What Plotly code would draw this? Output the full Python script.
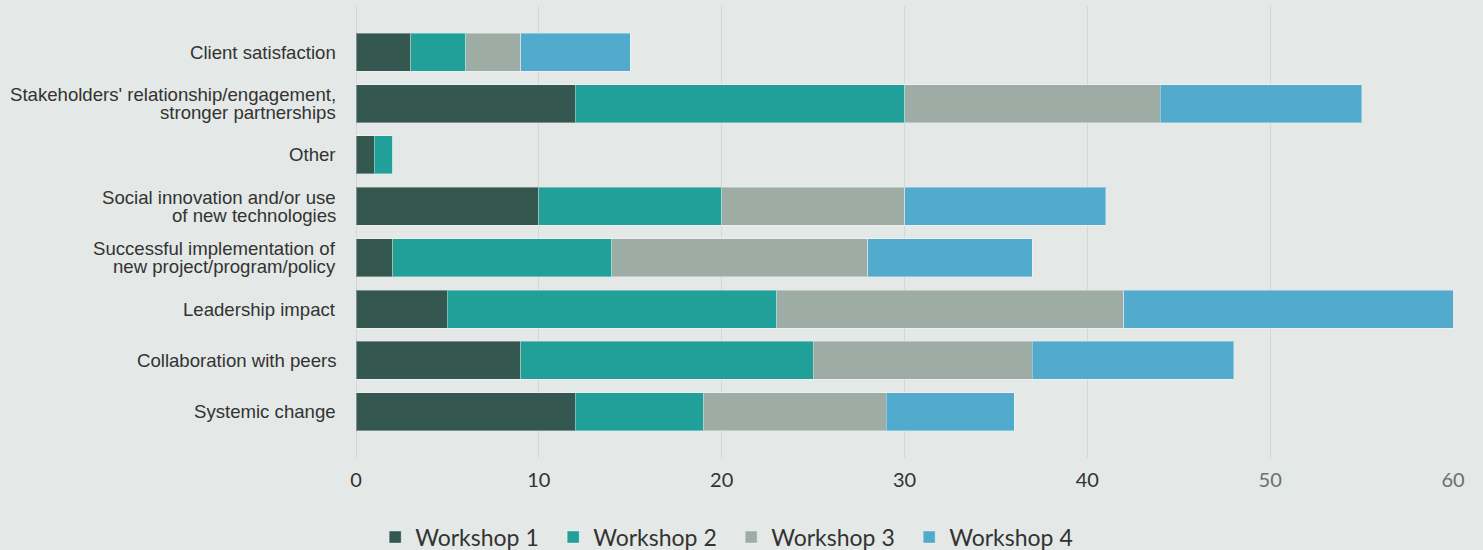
import plotly.graph_objects as go

categories = [
    "Client satisfaction",
    "Stakeholders' relationship/engagement,<br>stronger partnerships",
    "Other",
    "Social innovation and/or use<br>of new technologies",
    "Successful implementation of<br>new project/program/policy",
    "Leadership impact",
    "Collaboration with peers",
    "Systemic change",
]
series_names = ["Workshop 1", "Workshop 2", "Workshop 3", "Workshop 4"]
workshop1 = [3, 12, 1, 10, 2, 5, 9, 12]
workshop2 = [3, 18, 1, 10, 12, 18, 16, 7]
workshop3 = [3, 14, 0, 10, 14, 19, 12, 10]
workshop4 = [6, 11, 0, 11, 9, 18, 11, 7]
colors = ["#345850", "#21a099", "#9dada6", "#52aacd"]
tick_vals = [0, 10, 20, 30, 40, 50, 60]
tick_text = ["0", "10", "20", "30", "40",
             "<span style='color:#6b6f6e'>50</span>",
             "<span style='color:#6b6f6e'>60</span>"]

fig = go.Figure()
for name, vals, col in zip(series_names, [workshop1, workshop2, workshop3, workshop4], colors):
    fig.add_trace(go.Bar(
        y=categories, x=vals, name=name, orientation="h",
        marker=dict(color=col, line=dict(color="rgba(255,255,255,0.35)", width=1)),
    ))

# category labels drawn as text next to the axis, with tight line spacing
annotations = []
for cat in categories:
    lines = cat.split("<br>")
    n = len(lines)
    for i, line in enumerate(lines):
        annotations.append(dict(
            x=0, xref="paper", xanchor="right", xshift=-19,
            y=cat, yref="y", yanchor="middle", yshift=((n - 1) / 2 - i) * 17.5,
            text=line, showarrow=False, borderpad=0,
            font=dict(family="Liberation Sans, Arial", size=18.6, color="#333333"),
        ))

fig.update_layout(
    barmode="stack",
    width=1483, height=550,
    paper_bgcolor="#e4e8e6", plot_bgcolor="#e4e8e6",
    margin=dict(l=356, r=30, t=6, b=92, autoexpand=False),
    bargap=0.26,
    font=dict(family="Liberation Sans, Arial", color="#333333"),
    xaxis=dict(range=[0, 60], tickvals=tick_vals, ticktext=tick_text,
               showgrid=True, gridcolor="#d3d7d5", gridwidth=1,
               zeroline=True, zerolinecolor="#d3d7d5", zerolinewidth=1,
               tickfont=dict(family="Lato", size=20, color="#333333"),
               ticks="", ticklabelstandoff=8, fixedrange=True),
    yaxis=dict(categoryorder="array", categoryarray=categories[::-1],
               range=[-0.9, 7.9], showgrid=False, showticklabels=False,
               ticks="", fixedrange=True),
    annotations=annotations,
    legend=dict(orientation="h", xref="paper", yref="paper",
                x=0.342, xanchor="center", y=-0.175, yanchor="middle",
                font=dict(family="Lato", size=23, color="#333333"),
                traceorder="normal", itemwidth=30,
                entrywidth=133, entrywidthmode="pixels"),
    showlegend=True,
)

fig.write_html("out.html", config={"displayModeBar": False},
               post_script="document.body.style.margin='0';")
